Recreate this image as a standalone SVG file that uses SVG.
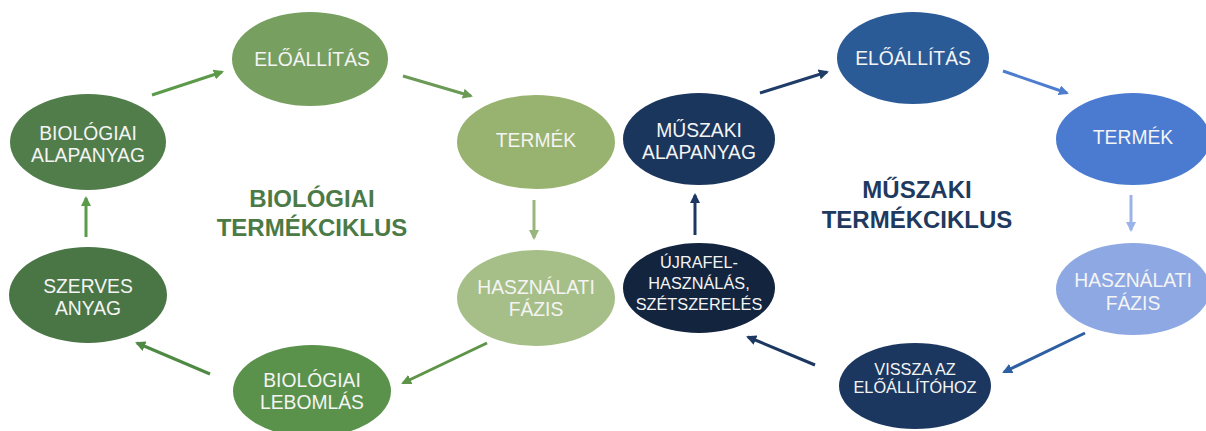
<svg xmlns="http://www.w3.org/2000/svg" width="1206" height="431" viewBox="0 0 1206 431">
<style>
.lbl{font-family:"Liberation Sans",Arial,sans-serif;fill:#f4f4f4;text-anchor:middle}
.l18{font-size:19.3px}
.l16{font-size:16.3px}
.title{font-family:"Liberation Sans",Arial,sans-serif;font-weight:bold;font-size:24px;text-anchor:middle}
.arr{stroke-width:3;fill:none}
</style>
<defs>
<marker id="mg1" viewBox="0 0 10 10" refX="8" refY="5" markerWidth="3.4" markerHeight="3.4" orient="auto"><path d="M0,0L10,5L0,10z" fill="#5b9a49"/></marker>
<marker id="mg2" viewBox="0 0 10 10" refX="8" refY="5" markerWidth="3.4" markerHeight="3.4" orient="auto"><path d="M0,0L10,5L0,10z" fill="#6a9a55"/></marker>
<marker id="mg3" viewBox="0 0 10 10" refX="8" refY="5" markerWidth="3.4" markerHeight="3.4" orient="auto"><path d="M0,0L10,5L0,10z" fill="#98b67c"/></marker>
<marker id="mg4" viewBox="0 0 10 10" refX="8" refY="5" markerWidth="3.4" markerHeight="3.4" orient="auto"><path d="M0,0L10,5L0,10z" fill="#5e9448"/></marker>
<marker id="mg5" viewBox="0 0 10 10" refX="8" refY="5" markerWidth="3.4" markerHeight="3.4" orient="auto"><path d="M0,0L10,5L0,10z" fill="#4e8a43"/></marker>
<marker id="mb1" viewBox="0 0 10 10" refX="8" refY="5" markerWidth="3.4" markerHeight="3.4" orient="auto"><path d="M0,0L10,5L0,10z" fill="#1f3d68"/></marker>
<marker id="mb2" viewBox="0 0 10 10" refX="8" refY="5" markerWidth="3.4" markerHeight="3.4" orient="auto"><path d="M0,0L10,5L0,10z" fill="#4e7dd0"/></marker>
<marker id="mb3" viewBox="0 0 10 10" refX="8" refY="5" markerWidth="3.4" markerHeight="3.4" orient="auto"><path d="M0,0L10,5L0,10z" fill="#9cb3e8"/></marker>
<marker id="mb4" viewBox="0 0 10 10" refX="8" refY="5" markerWidth="3.4" markerHeight="3.4" orient="auto"><path d="M0,0L10,5L0,10z" fill="#2e5fa3"/></marker>
<marker id="mb5" viewBox="0 0 10 10" refX="8" refY="5" markerWidth="3.4" markerHeight="3.4" orient="auto"><path d="M0,0L10,5L0,10z" fill="#1c3760"/></marker>
</defs>
<rect width="1206" height="431" fill="#ffffff"/>

<g id="connectors">
<line class="arr" x1="152" y1="95" x2="222" y2="72" stroke="#5b9a49" marker-end="url(#mg1)"/>
<line class="arr" x1="403" y1="76" x2="471" y2="96" stroke="#6a9a55" marker-end="url(#mg2)"/>
<line class="arr" x1="534" y1="200" x2="534" y2="238" stroke="#98b67c" marker-end="url(#mg3)"/>
<line class="arr" x1="487" y1="343" x2="403" y2="383" stroke="#5e9448" marker-end="url(#mg4)"/>
<line class="arr" x1="210" y1="374" x2="137" y2="343" stroke="#4e8a43" marker-end="url(#mg5)"/>
<line class="arr" x1="86" y1="237" x2="86" y2="198" stroke="#5b9a49" marker-end="url(#mg1)"/>
<line class="arr" x1="760" y1="93" x2="827" y2="72" stroke="#1f3d68" marker-end="url(#mb1)"/>
<line class="arr" x1="1003" y1="71" x2="1067" y2="93" stroke="#4e7dd0" marker-end="url(#mb2)"/>
<line class="arr" x1="1131" y1="195" x2="1131" y2="230" stroke="#9cb3e8" marker-end="url(#mb3)"/>
<line class="arr" x1="1085" y1="333" x2="1004" y2="372" stroke="#2e5fa3" marker-end="url(#mb4)"/>
<line class="arr" x1="815" y1="365" x2="748" y2="337" stroke="#1c3760" marker-end="url(#mb5)"/>
<line class="arr" x1="695" y1="235" x2="695" y2="195" stroke="#1c3760" marker-end="url(#mb5)"/>
</g>

<g id="bio-alapanyag">
<ellipse cx="88" cy="142" rx="78" ry="48" fill="#517d4b"/>
<text class="lbl l18" x="88" y="140">BIOLÓGIAI</text>
<text class="lbl l18" x="88" y="162">ALAPANYAG</text>
</g>
<g id="bio-eloallitas">
<ellipse cx="310" cy="59" rx="78" ry="47" fill="#779f5f"/>
<text class="lbl l18" x="312" y="66">ELŐÁLLÍTÁS</text>
</g>
<g id="bio-termek">
<ellipse cx="536" cy="142" rx="79" ry="47" fill="#98b26f"/>
<text class="lbl l18" x="536" y="147">TERMÉK</text>
</g>
<g id="bio-hasznalati">
<ellipse cx="536" cy="298" rx="79" ry="48" fill="#a6bf88"/>
<text class="lbl l18" x="536" y="294">HASZNÁLATI</text>
<text class="lbl l18" x="536" y="316">FÁZIS</text>
</g>
<g id="bio-lebomlas">
<ellipse cx="312" cy="391" rx="79" ry="46" fill="#5a924c"/>
<text class="lbl l18" x="312" y="387">BIOLÓGIAI</text>
<text class="lbl l18" x="312" y="409">LEBOMLÁS</text>
</g>
<g id="bio-szerves">
<ellipse cx="88" cy="295" rx="79" ry="48" fill="#4a7646"/>
<text class="lbl l18" x="88" y="293">SZERVES</text>
<text class="lbl l18" x="88" y="315">ANYAG</text>
</g>
<g id="bio-title">
<text class="title" x="312" y="207" fill="#4b7a46">BIOLÓGIAI</text>
<text class="title" x="312" y="236" fill="#4b7a46">TERMÉKCIKLUS</text>
</g>

<g id="tech-alapanyag">
<ellipse cx="699" cy="139" rx="76" ry="46" fill="#1b365d"/>
<text class="lbl l18" x="699" y="137">MŰSZAKI</text>
<text class="lbl l18" x="699" y="159">ALAPANYAG</text>
</g>
<g id="tech-eloallitas">
<ellipse cx="913" cy="58" rx="76" ry="46" fill="#2a5b97"/>
<text class="lbl l18" x="913" y="65">ELŐÁLLÍTÁS</text>
</g>
<g id="tech-termek">
<ellipse cx="1133" cy="139" rx="77" ry="46" fill="#4a7bd1"/>
<text class="lbl l18" x="1133" y="144">TERMÉK</text>
</g>
<g id="tech-hasznalati">
<ellipse cx="1133" cy="289" rx="77" ry="46" fill="#8ea8e3"/>
<text class="lbl l18" x="1133" y="287">HASZNÁLATI</text>
<text class="lbl l18" x="1133" y="310">FÁZIS</text>
</g>
<g id="tech-vissza">
<ellipse cx="915" cy="386" rx="76" ry="43" fill="#1c375f"/>
<text class="lbl l16" x="915" y="375">VISSZA AZ</text>
<text class="lbl l16" x="915" y="393">ELŐÁLLÍTÓHOZ</text>
</g>
<g id="tech-ujrafel">
<ellipse cx="699" cy="288" rx="76" ry="45" fill="#13243f"/>
<text class="lbl l16" x="699" y="268">ÚJRAFEL-</text>
<text class="lbl l16" x="699" y="289">HASZNÁLÁS,</text>
<text class="lbl l16" x="699" y="310">SZÉTSZERELÉS</text>
</g>
<g id="tech-title">
<text class="title" x="917" y="198" fill="#1f3a5f">MŰSZAKI</text>
<text class="title" x="917" y="228" fill="#1f3a5f">TERMÉKCIKLUS</text>
</g>
</svg>
